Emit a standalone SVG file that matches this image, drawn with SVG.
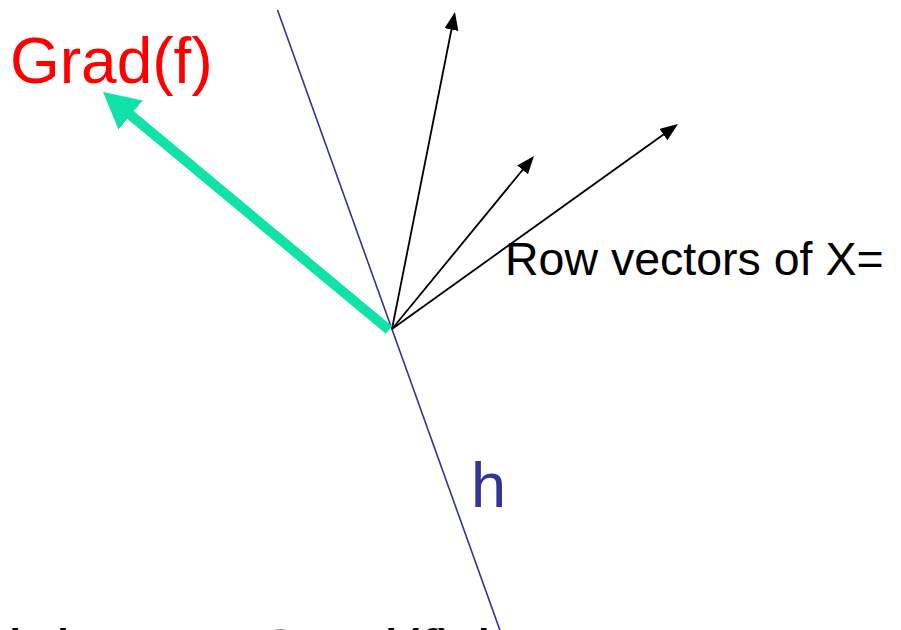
<svg xmlns="http://www.w3.org/2000/svg" width="901" height="630" viewBox="0 0 901 630">
<defs>
<style>
.t{font-family:"Liberation Sans",Arial,sans-serif}
.vec{stroke:#000;stroke-width:1.8;fill:none;marker-end:url(#ah)}
</style>
<marker id="ah" markerUnits="userSpaceOnUse" markerWidth="20" markerHeight="16" refX="10" refY="7" orient="auto">
<path d="M0,0 L18,7 L0,14 z" fill="#000"/>
</marker>
<marker id="gh" markerUnits="userSpaceOnUse" markerWidth="40" markerHeight="40" refX="16" refY="19" orient="auto">
<path d="M0,0 L36,19 L0,38 z" fill="#11e3a8"/>
</marker>
</defs>
<rect width="901" height="630" fill="#fff"/>
<g id="plane-h">
<line x1="277.5" y1="10" x2="502" y2="636" stroke="#333399" stroke-width="1.6"/>
<text class="t" x="471" y="507" font-size="63" fill="#333399">h</text>
</g>
<g id="connectors">
<line class="vec" x1="392" y1="329" x2="453.4" y2="19.8"/>
<line class="vec" x1="392" y1="329" x2="528.9" y2="162.2"/>
<line class="vec" x1="392" y1="329" x2="671.5" y2="128.7"/>
<line x1="389" y1="330" x2="118.4" y2="104.8" stroke="#11e3a8" stroke-width="10" marker-end="url(#gh)"/>
</g>
<g id="grad-label">
<text class="t" x="10" y="83" font-size="64" fill="#ff0000">Grad(f)</text>
</g>
<g id="rows-label">
<text class="t" x="505" y="275" font-size="46.5" fill="#000">Row vectors of X=</text>
</g>
<g id="bottom-text">
<text class="t" y="675" font-size="64" fill="#000"><tspan x="8">h</tspan><tspan x="56">is</tspan><tspan x="256">Grad(f) h</tspan></text>
</g>
</svg>
